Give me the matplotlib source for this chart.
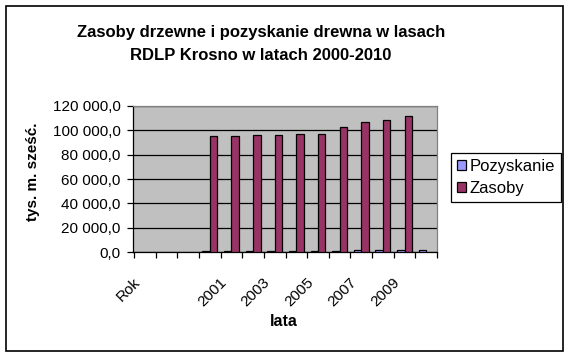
import numpy as np
import matplotlib.pyplot as plt
from matplotlib.patches import Rectangle
from matplotlib.ticker import FuncFormatter, MultipleLocator

plt.rcParams['font.family'] = ['Liberation Sans', 'DejaVu Sans']

# Dane (tys. m. sześć.)
kategorie = ["Rok", "", "", "2000", "2001", "2002", "2003", "2004",
             "2005", "2006", "2007", "2008", "2009", "2010"]
pozyskanie = [np.nan, np.nan, np.nan, 900, 900, 950, 950, 1000,
              1000, 1050, 1700, 1750, 1800, 1700]
zasoby = [np.nan, np.nan, np.nan, 95100, 95100, 95900, 95900, 96700,
          96700, 102500, 106800, 108200, 111500, np.nan]

W, H = 571, 358
fig = plt.figure(figsize=(W / 100, H / 100), dpi=100)
fig.patch.set_facecolor('white')

# ramka wykresu
fig.add_artist(Rectangle((6 / W, 7 / H), 557 / W, 345 / H, transform=fig.transFigure,
                         fill=False, edgecolor='black', linewidth=1.2))

ax = fig.add_axes([133 / W, (H - 252.3) / H, 304 / W, 146.6 / H])
ax.set_facecolor('#C0C0C0')

x = np.arange(len(kategorie))
bw = 0.345
ax.bar(x - bw / 2, pozyskanie, width=bw, color='#9999FF', edgecolor='black',
       linewidth=0.9, label='Pozyskanie', zorder=3)
ax.bar(x + bw / 2, zasoby, width=bw, color='#993366', edgecolor='black',
       linewidth=0.9, label='Zasoby', zorder=3)

ax.set_xlim(-0.5, len(kategorie) - 0.5)
ax.set_ylim(0, 120000)
ax.yaxis.set_major_locator(MultipleLocator(20000))
ax.yaxis.set_major_formatter(FuncFormatter(
    lambda v, p: f"{v:,.1f}".replace(",", " ").replace(".", ",")))
ax.grid(axis='y', color='black', linewidth=0.9, zorder=1)

# etykiety osi X co druga kategoria (przesunięte w lewo, jak w Excelu),
# kreski na granicach kategorii
ax.set_xticks(x - 0.55)
ax.set_xticklabels([k if i % 2 == 0 else "" for i, k in enumerate(kategorie)],
                   rotation=45, ha='right', va='top', rotation_mode='anchor')
ax.set_xticks(np.arange(-0.5, len(kategorie)), minor=True)
ax.tick_params(axis='x', which='major', length=0, pad=16.5, labelsize=11)
ax.tick_params(axis='x', which='minor', length=4, direction='out', width=0.9)
ax.tick_params(axis='y', length=4, direction='out', width=0.9, labelsize=11, pad=5)

for s in ['top', 'right']:
    ax.spines[s].set_color('#808080')
for s in ['left', 'bottom']:
    ax.spines[s].set_color('black')
for s in ax.spines.values():
    s.set_linewidth(0.9)

fig.text(261 / W, 1 - 33 / H, "Zasoby drzewne i pozyskanie drewna w lasach",
         ha='center', va='center', fontsize=12, fontweight='bold')
fig.text(261 / W, 1 - 55 / H, "RDLP Krosno w latach 2000-2010",
         ha='center', va='center', fontsize=12, fontweight='bold')
fig.text(33 / W, 1 - 172 / H, "tys. m. sześć.", rotation=90,
         ha='center', va='center', fontsize=11, fontweight='bold')
fig.text(284 / W, 1 - 322 / H, "lata", ha='center', va='center',
         fontsize=11.5, fontweight='bold')

leg = ax.legend(loc='upper left', bbox_to_anchor=(451 / W, 1 - 153 / H),
                bbox_transform=fig.transFigure, fancybox=False, framealpha=1,
                edgecolor='black', fontsize=12, borderaxespad=0,
                handlelength=0.55, handleheight=0.55, handletextpad=0.2,
                labelspacing=0.45, borderpad=0.35)
leg.get_frame().set_linewidth(0.9)

fig.savefig('out.png', dpi=100)
